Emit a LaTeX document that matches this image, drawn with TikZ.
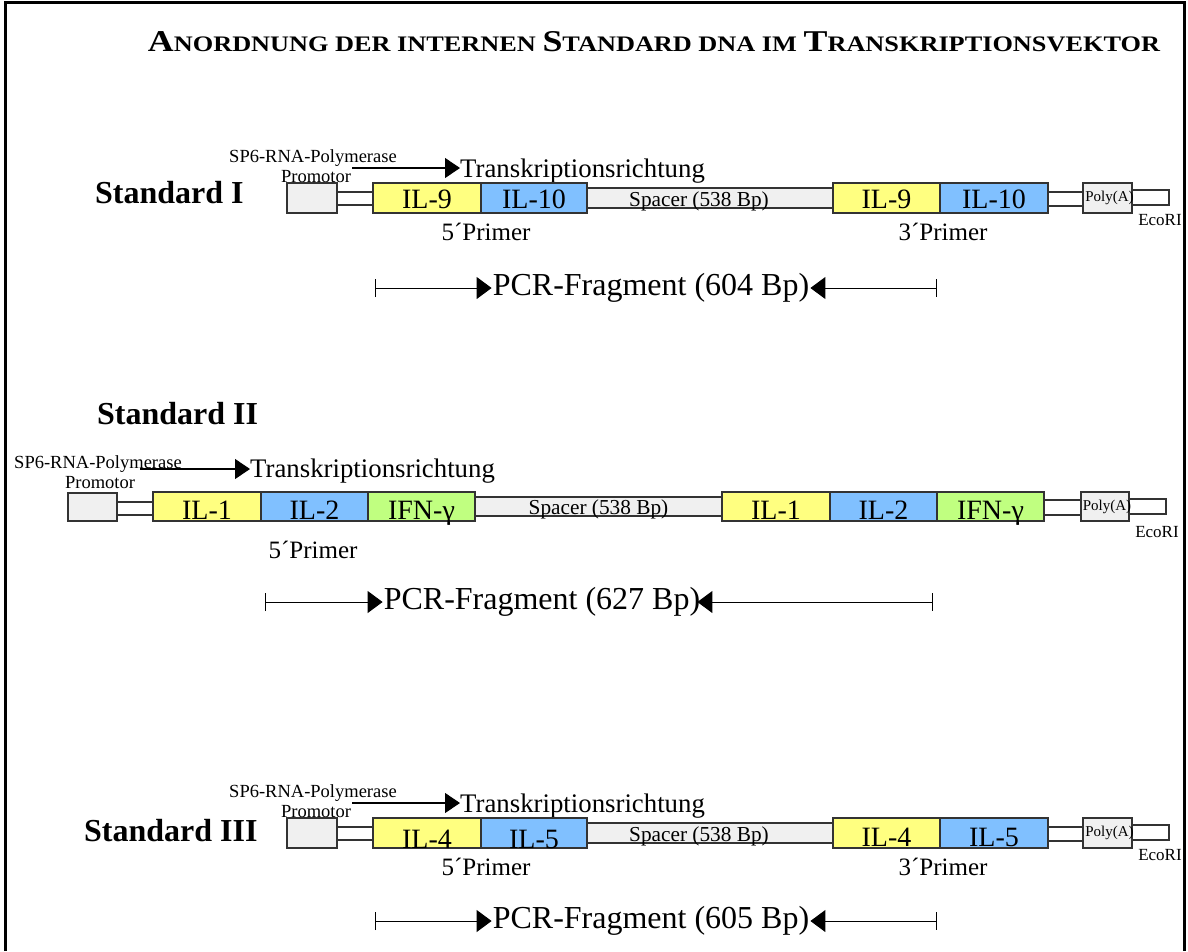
\documentclass[tikz,border=0pt]{standalone}
\usepackage{fontspec}
\setmainfont{Liberation Serif}
\usetikzlibrary{arrows.meta,calc}
\definecolor{ily}{RGB}{255,255,128}
\definecolor{ilb}{RGB}{128,192,255}
\definecolor{ilg}{RGB}{192,255,128}
\definecolor{gry}{RGB}{240,240,240}
\newcommand{\fs}[1]{\fontsize{#1}{#1}\selectfont}
\newcommand{\gbox}[6]{\node[gbx,fill=#6,minimum width={#4-#2},minimum height={#5-#3}] (#1) at (#2,#3) {};}
\newcommand{\smc}[1]{{\fs{22}#1}}
\newcommand{\bgc}[1]{{\fs{30}#1}}
\begin{document}
\begin{tikzpicture}[x=1pt,y=-1pt,
  gbx/.style={draw=black!80,line width=1.1pt,inner sep=0pt,outer sep=0pt,anchor=north west},
  glab/.style={inner sep=0pt,anchor=base,font=\fs{28}},
  splab/.style={inner sep=0pt,anchor=base,font=\fs{21.3}},
  palab/.style={inner sep=0pt,anchor=center,font=\fs{15}},
  ecolab/.style={inner sep=0pt,anchor=base,font=\fs{17}},
  sp6lab/.style={inner sep=0pt,anchor=base,font=\fs{18.5}},
  primlab/.style={inner sep=0pt,anchor=base,font=\fs{25}},
  trlab/.style={inner sep=0pt,anchor=base west,font=\fs{26.8}},
  pcrlab/.style={inner sep=1pt,anchor=center,font=\fs{32}},
  trarrow/.style={line width=1.1pt,-{Triangle[length=15pt,width=20pt]}},
  pcrarrow/.style={line width=1pt,{Bar[width=18pt]}-{Triangle[length=15pt,width=22pt]}},
  stdlab/.style={inner sep=0pt,anchor=base west,font=\fs{32}\bfseries}
]
\useasboundingbox (0,0) rectangle (1188,951);
\draw[line width=2.4pt] (5.5,951) -- (5.5,2.5) -- (1184.5,2.5) -- (1184.5,951);

\node[inner sep=0pt] (title) at (654,42) {\resizebox{1012pt}{20pt}{\bfseries \bgc{A}\smc{NORDNUNG DER INTERNEN }\bgc{S}\smc{TANDARD DNA IM }\bgc{T}\smc{RANSKRIPTIONSVEKTOR}}};

% ---------- Standard I ----------
\node[stdlab] (std1) at (95,203) {Standard I};
\node[sp6lab] (sp1) at (313,162) {SP6-RNA-Polymerase};
\node[sp6lab] (pr1) at (316,182) {Promotor};
\coordinate (ta1) at (352,168);
\node[trlab] (tr1) at (460,177) {Transkriptionsrichtung};
\draw[trarrow] (ta1) -- (ta1 -| tr1.west);
\gbox{p1}{287}{183}{337}{213}{gry}
\gbox{l1}{337}{192}{373}{205}{white}
\gbox{a1}{373}{183}{481}{213}{ily}
\gbox{b1}{481}{183}{587}{213}{ilb}
\gbox{s1}{587}{188}{833}{208}{gry}
\gbox{a2}{833}{183}{940}{213}{ily}
\gbox{b2}{940}{183}{1048}{213}{ilb}
\gbox{m1}{1048}{192}{1083}{206}{white}
\gbox{q1}{1083}{183}{1132}{213}{gry}
\gbox{e1}{1132}{190}{1169}{205}{white}
\node[glab] at ($(a1.south)+(0,-5)$) {IL-9};
\node[glab] at ($(b1.south)+(0,-5)$) {IL-10};
\node[glab] at ($(a2.south)+(0,-5)$) {IL-9};
\node[glab] at ($(b2.south)+(0,-5)$) {IL-10};
\node[splab] at ($(s1.south)+(-11,-1.5)$) {Spacer (538 Bp)};
\node[palab] at ($(q1.center)+(2,0)$) {Poly(A)};
\node[ecolab] (eco1) at (1160,225) {EcoRI};
\node[primlab] (pm1) at (486,240) {5´Primer};
\node[primlab] (pm2) at (943,240) {3´Primer};
\node[pcrlab] (pcr1) at (651,288) {PCR-Fragment (604 Bp)};
\coordinate (pl1) at (375,288);
\coordinate (pr1x) at (937,288);
\draw[pcrarrow] (pl1) -- (pcr1.west);
\draw[pcrarrow] (pr1x) -- (pcr1.east);

% ---------- Standard II ----------
\node[stdlab] (std2) at (97,424) {Standard II};
\node[sp6lab] (sp2) at (98,468) {SP6-RNA-Polymerase};
\node[sp6lab] (pr2) at (100,488) {Promotor};
\coordinate (ta2) at (140,469);
\node[trlab] (tr2) at (250,477) {Transkriptionsrichtung};
\draw[trarrow] (ta2) -- (ta2 -| tr2.west);
\gbox{p2}{68}{493}{117}{521}{gry}
\gbox{l2}{117}{502}{153}{515}{white}
\gbox{a3}{153}{492}{261}{521}{ily}
\gbox{b3}{261}{492}{368}{521}{ilb}
\gbox{c3}{368}{492}{475}{521}{ilg}
\gbox{s2}{475}{497}{722}{516}{gry}
\gbox{a4}{722}{492}{830}{521}{ily}
\gbox{b4}{830}{492}{937}{521}{ilb}
\gbox{c4}{937}{492}{1044}{521}{ilg}
\gbox{m2}{1044}{500}{1081}{515}{white}
\gbox{q2}{1081}{492}{1129}{521}{gry}
\gbox{e2}{1129}{499}{1166}{514}{white}
\node[glab] at ($(a3.south)+(0,-2)$) {IL-1};
\node[glab] at ($(b3.south)+(0,-2)$) {IL-2};
\node[glab] at ($(c3.south)+(0,-2)$) {IFN-γ};
\node[glab] at ($(a4.south)+(0,-2)$) {IL-1};
\node[glab] at ($(b4.south)+(0,-2)$) {IL-2};
\node[glab] at ($(c4.south)+(0,-2)$) {IFN-γ};
\node[splab] at ($(s2.south)+(0,-1.5)$) {Spacer (538 Bp)};
\node[palab] at ($(q2.center)+(2,0)$) {Poly(A)};
\node[ecolab] (eco2) at (1157,537) {EcoRI};
\node[primlab] (pm3) at (313,558) {5´Primer};
\node[pcrlab] (pcr2) at (542,602) {PCR-Fragment (627 Bp)};
\coordinate (pl2) at (265,602);
\coordinate (pr2x) at (933,602);
\draw[pcrarrow] (pl2) -- (pcr2.west);
\draw[pcrarrow] (pr2x) -- ([xshift=-4pt]pcr2.east);

% ---------- Standard III ----------
\node[stdlab] (std3) at (84,841) {Standard III};
\node[sp6lab] (sp3) at (313,797) {SP6-RNA-Polymerase};
\node[sp6lab] (pr3) at (316,817) {Promotor};
\coordinate (ta3) at (352,803);
\node[trlab] (tr3) at (460,812) {Transkriptionsrichtung};
\draw[trarrow] (ta3) -- (ta3 -| tr3.west);
\gbox{p3}{287}{818}{337}{848}{gry}
\gbox{l3}{337}{827}{373}{840}{white}
\gbox{a5}{373}{818}{481}{848}{ily}
\gbox{b5}{481}{818}{587}{848}{ilb}
\gbox{s3}{587}{823}{833}{843}{gry}
\gbox{a6}{833}{818}{940}{848}{ily}
\gbox{b6}{940}{818}{1048}{848}{ilb}
\gbox{m3}{1048}{827}{1083}{841}{white}
\gbox{q3}{1083}{818}{1132}{848}{gry}
\gbox{e3}{1132}{825}{1169}{840}{white}
\node[glab] at ($(a5.south)+(0,0)$) {IL-4};
\node[glab] at ($(b5.south)+(0,0)$) {IL-5};
\node[glab] at ($(a6.south)+(0,-2)$) {IL-4};
\node[glab] at ($(b6.south)+(0,-2)$) {IL-5};
\node[splab] at ($(s3.south)+(-11,-1.5)$) {Spacer (538 Bp)};
\node[palab] at ($(q3.center)+(2,0)$) {Poly(A)};
\node[ecolab] (eco3) at (1160,860) {EcoRI};
\node[primlab] (pm4) at (486,875) {5´Primer};
\node[primlab] (pm5) at (943,875) {3´Primer};
\node[pcrlab] (pcr3) at (651,921) {PCR-Fragment (605 Bp)};
\coordinate (pl3) at (375,921);
\coordinate (pr3x) at (937,921);
\draw[pcrarrow] (pl3) -- (pcr3.west);
\draw[pcrarrow] (pr3x) -- (pcr3.east);
\end{tikzpicture}
\end{document}
